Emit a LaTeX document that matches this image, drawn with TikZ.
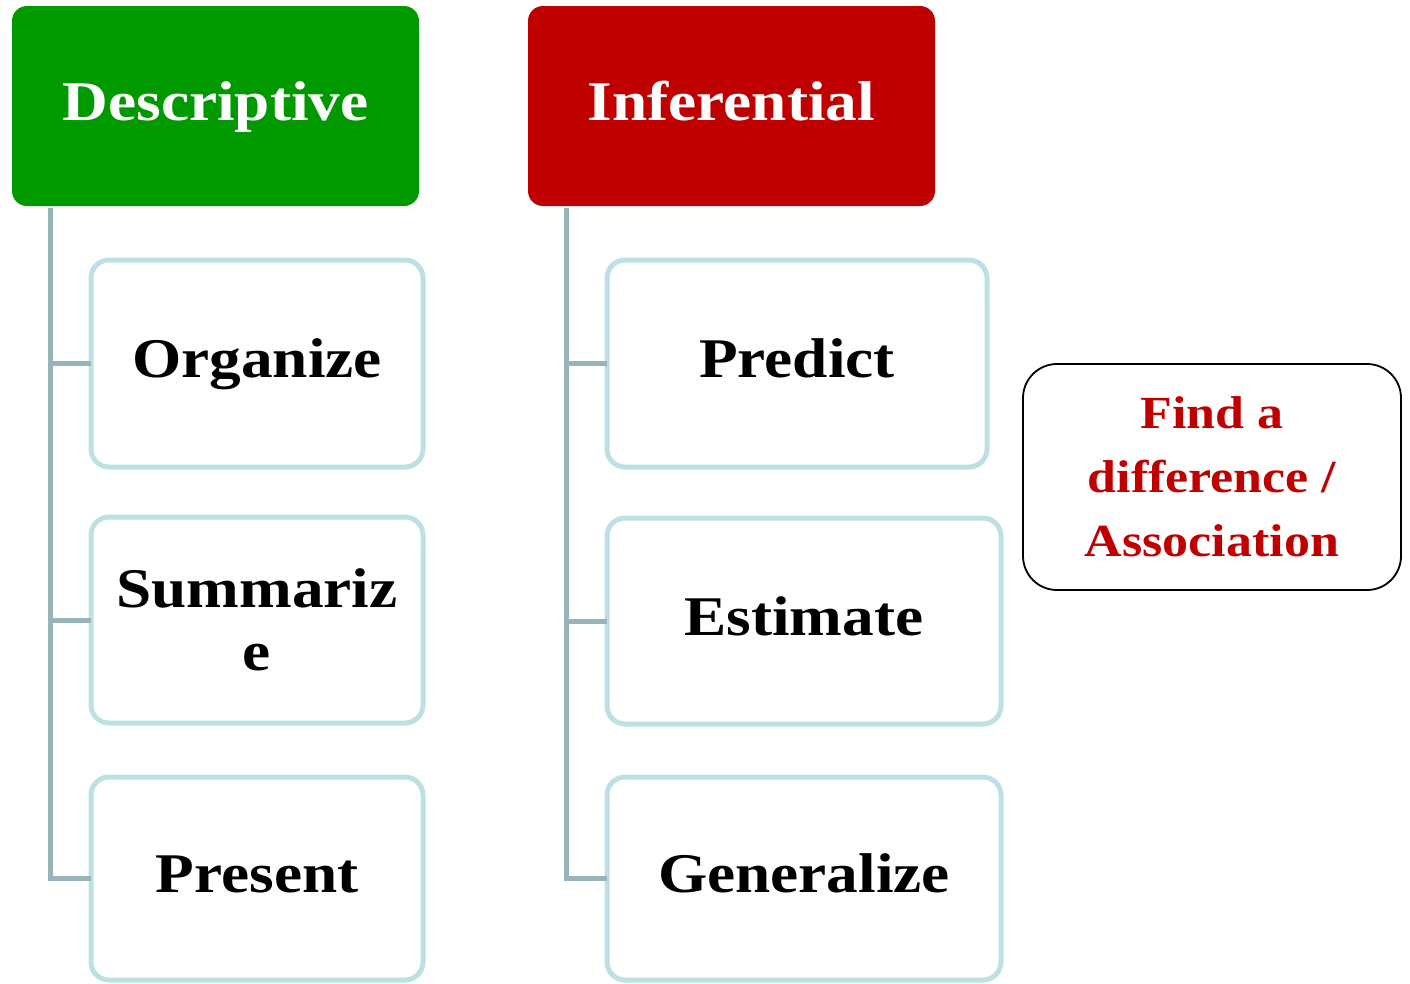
\documentclass[tikz,border=0pt]{standalone}
\usepackage{fontspec}
\setmainfont{Liberation Serif}[FakeStretch=1.13]
\begin{document}
\begin{tikzpicture}[x=1pt,y=-1pt,
  head/.style={rounded corners=15pt, inner sep=0pt, outer sep=0pt, text=white,
    font=\bfseries\fontsize{56}{62}\selectfont, text height=42pt, text depth=14pt,
    minimum width=407pt, minimum height=200pt},
  item/.style={draw=itemblue, line width=5pt, rounded corners=18pt, fill=white,
    inner sep=0pt, outer sep=0pt, align=center,
    font=\bfseries\fontsize{56}{63}\selectfont},
  oneline/.style={text height=42pt, text depth=14pt},
  trunk/.style={draw=trunkgray, line width=5pt},
  note/.style={draw=black, line width=1.8pt, rounded corners=34pt, fill=white,
    inner sep=0pt, outer sep=0pt, align=center, text=noteRed,
    font=\bfseries\fontsize{46}{64}\selectfont, minimum width=378pt, minimum height=226pt}]
\definecolor{descGreen}{HTML}{009900}
\definecolor{infRed}{HTML}{C00000}
\definecolor{noteRed}{HTML}{C00000}
\definecolor{itemblue}{HTML}{BDE0E4}
\definecolor{trunkgray}{HTML}{98B4B8}
\useasboundingbox (0,0) rectangle (1410,983);

% column headers
\node[head, fill=descGreen] (desc) at (215.5,106) {Descriptive};
\node[head, fill=infRed]   (inf)  at (731.5,106) {Inferential};

% descriptive column
\node[item, oneline, minimum width=332pt, minimum height=207pt] (org)  at (257,363.5) {Organize};
\node[item, minimum width=332pt, minimum height=206pt] (summ) at (257,620)   {Summariz\\e};
\node[item, oneline, minimum width=332pt, minimum height=203pt] (pres) at (257,878.5) {Present};

% inferential column
\node[item, oneline, minimum width=380pt, minimum height=207pt] (pred) at (797,363.5) {Predict};
\node[item, oneline, minimum width=394pt, minimum height=206pt] (est)  at (804,621)   {Estimate};
\node[item, oneline, minimum width=394pt, minimum height=203pt] (gen)  at (804,878.5) {Generalize};

% side note
\node[note] (find) at (1212,477) {Find a\\difference /\\Association};

% tree connectors
\coordinate (dtop) at (50,208);
\coordinate (itop) at (566,208);
\draw[trunk] (dtop) |- (pres.west);
\draw[trunk] (org.west)  -- (org.west -| dtop);
\draw[trunk] (summ.west) -- (summ.west -| dtop);
\draw[trunk] (itop) |- (gen.west);
\draw[trunk] (pred.west) -- (pred.west -| itop);
\draw[trunk] (est.west)  -- (est.west -| itop);
\end{tikzpicture}
\end{document}
